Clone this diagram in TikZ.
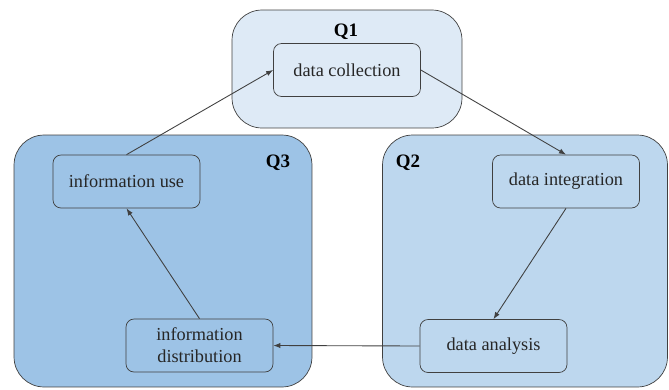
\documentclass[tikz,border=0pt]{standalone}
\usepackage{fontspec}
\setmainfont{Liberation Serif}
\usepackage{tikz}
\usetikzlibrary{positioning, arrows.meta}
\definecolor{cycle-light}{HTML}{DEEAF6}
\definecolor{cycle-mid}{HTML}{BDD7EE}
\definecolor{cycle-deep}{HTML}{9DC3E6}
\definecolor{cycle-line}{HTML}{404040}

\begin{document}
\begin{tikzpicture}[
    x=0.02cm, y=-0.02cm,
    quad/.style={draw=cycle-line, rounded corners=0.6cm, inner sep=0pt},
    stage/.style={draw=cycle-line, rounded corners=0.16cm, inner sep=2pt,
                  minimum width=2.94cm, minimum height=1.06cm, align=center,
                  font=\fontsize{10.4}{12.5}\selectfont, text=black!85},
    qlabel/.style={font=\fontsize{10.8}{12}\selectfont\bfseries},
    arr/.style={-{Latex[length=4pt,width=3pt]}, cycle-line, line width=0.5pt},
]
    \useasboundingbox (0,0) rectangle (669,389);

    % Quadrants
    \node[quad, fill=cycle-light, minimum width=4.6cm, minimum height=2.36cm] (q1) at (347,69) {};
    \node[quad, fill=cycle-deep, minimum width=5.96cm, minimum height=5.04cm] (q3) at (163,261) {};
    \node[quad, fill=cycle-mid, minimum width=5.7cm, minimum height=5.04cm] (q2) at (525,261) {};

    \node[qlabel] (q1lab) at (346,32) {Q1};
    \node[qlabel] (q2lab) at (408,163) {Q2};
    \node[qlabel] (q3lab) at (278,163) {Q3};

    % Stages
    \node[stage] (collect) at (347,70)      {data collection};
    \node[stage] (integr)  at (566,181.5)   {data integration};
    \node[stage] (analys)  at (493.5,346)   {data analysis};
    \node[stage] (distr)   at (199.5,345.5) {information\\distribution};
    \node[stage] (use)     at (126.5,181.5) {information use};

    % Cycle
    \draw[arr] (collect.east) -- (integr.north);
    \draw[arr] (integr.south) -- (analys.north);
    \draw[arr] (analys.west) -- (distr.east);
    \draw[arr] (distr.north) -- (use.south);
    \draw[arr] (use.north) -- (collect.west);
\end{tikzpicture}
\end{document}
